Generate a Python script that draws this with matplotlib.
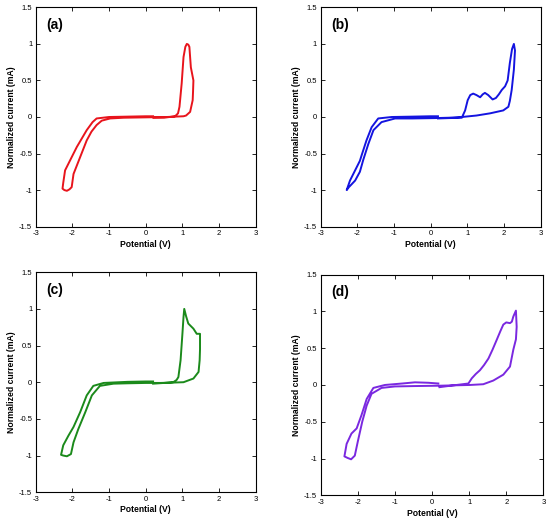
import matplotlib
matplotlib.use("Agg")
from matplotlib import pyplot as plt

plt.rcParams["font.family"] = ["Liberation Sans", "DejaVu Sans"]

# panel (a) - loop traced from 0.2 V, positive first
aX = [0.21, 0.5, 0.8, 0.88, 0.92, 0.98, 1.03, 1.08, 1.12, 1.16, 1.19, 1.23, 1.30, 1.29, 1.28, 1.21, 1.10, 1.03, 0.57,
      0.0, -0.6, -0.97, -1.20, -1.34, -1.48, -1.61, -1.79, -1.97, -2.02, -2.08, -2.15, -2.22, -2.27,
      -2.25, -2.2, -2.06, -1.88, -1.61, -1.45, -1.34, -1.0, -0.5, 0.0, 0.2]
aY = [-0.01, -0.01, 0.01, 0.05, 0.14, 0.46, 0.82, 0.96, 1.0, 0.99, 0.96, 0.68, 0.5, 0.35, 0.23, 0.07, 0.02, 0.01, 0.0,
      -0.005, -0.01, -0.02, -0.05, -0.11, -0.2, -0.32, -0.55, -0.78, -0.96, -0.99, -1.01, -1.0, -0.98,
      -0.9, -0.73, -0.59, -0.41, -0.18, -0.07, -0.02, 0.0, 0.005, 0.01, 0.01]

# panel (b)
bX = [0.2, 0.5, 0.85, 0.94, 1.01, 1.08, 1.16, 1.25, 1.35, 1.42, 1.48, 1.57, 1.69, 1.78, 1.86, 1.94, 2.03, 2.10, 2.16, 2.22, 2.27,
      2.30, 2.27, 2.21, 2.16, 2.12, 1.98, 1.62, 1.25, 0.85, 0.5,
      0.12, -0.5, -0.97, -1.34, -1.56, -1.70, -1.84, -1.93, -2.06, -2.23, -2.29,
      -2.2, -2.06, -1.93, -1.88, -1.75, -1.61, -1.43, -1.06, -0.5, 0.0, 0.2]
bY = [-0.02, -0.015, -0.01, 0.09, 0.23, 0.30, 0.32, 0.30, 0.27, 0.31, 0.33, 0.30, 0.24, 0.26, 0.31, 0.37, 0.42, 0.5, 0.74, 0.93, 1.0,
      0.91, 0.65, 0.37, 0.22, 0.14, 0.09, 0.05, 0.02, 0.0, -0.01,
      -0.015, -0.02, -0.02, -0.07, -0.18, -0.37, -0.59, -0.75, -0.87, -0.96, -1.0,
      -0.87, -0.73, -0.6, -0.52, -0.32, -0.14, -0.02, 0.0, 0.005, 0.01, 0.01]

# panel (c)
cX = [0.2, 0.5, 0.75, 0.84, 0.89, 0.95, 1.0, 1.03, 1.05, 1.10, 1.16, 1.30, 1.39, 1.48, 1.48, 1.47, 1.44, 1.3, 1.03, 0.75, 0.4,
      0.0, -0.5, -0.88, -1.25, -1.47, -1.65, -1.84, -1.97, -2.04, -2.15, -2.25, -2.31,
      -2.25, -2.11, -1.97, -1.79, -1.61, -1.43, -1.15, -0.5, 0.0, 0.2]
cY = [-0.02, -0.01, 0.0, 0.03, 0.07, 0.3, 0.66, 0.89, 1.0, 0.9, 0.8, 0.73, 0.66, 0.66, 0.45, 0.3, 0.14, 0.05, 0.0, -0.005, -0.01,
      -0.01, -0.015, -0.02, -0.05, -0.18, -0.41, -0.64, -0.82, -0.98, -1.01, -1.0, -0.99,
      -0.86, -0.73, -0.61, -0.41, -0.18, -0.05, -0.01, 0.005, 0.01, 0.01]

# panel (d)
dX = [0.2, 0.5, 0.98, 1.07, 1.18, 1.29, 1.40, 1.52, 1.63, 1.74, 1.84, 1.92, 2.0, 2.1, 2.15, 2.19, 2.26,
      2.28, 2.26, 2.19, 2.1, 1.92, 1.65, 1.38, 1.02, 0.6,
      0.2, -0.5, -1.0, -1.36, -1.63, -1.76, -1.88, -2.0, -2.08, -2.18, -2.28, -2.36,
      -2.3, -2.17, -2.03, -1.9, -1.76, -1.58, -1.27, -0.8, -0.46, -0.1, 0.17]
dY = [-0.03, -0.01, 0.02, 0.09, 0.15, 0.2, 0.27, 0.36, 0.48, 0.61, 0.73, 0.82, 0.85, 0.84, 0.86, 0.93, 1.01,
      0.79, 0.62, 0.48, 0.25, 0.14, 0.06, 0.01, 0.0, -0.005,
      -0.01, -0.015, -0.02, -0.04, -0.12, -0.28, -0.5, -0.77, -0.96, -1.01, -0.99, -0.97,
      -0.8, -0.66, -0.59, -0.41, -0.19, -0.04, 0.0, 0.02, 0.036, 0.03, 0.02]

panels = [("(a)", aX, aY, "#e8141c", [0.065, 0.570, 0.400, 0.416]),
          ("(b)", bX, bY, "#1414e0", [0.583, 0.570, 0.400, 0.416]),
          ("(c)", cX, cY, "#1b8a1b", [0.065, 0.066, 0.400, 0.4175]),
          ("(d)", dX, dY, "#7a28e0", [0.583, 0.060, 0.405, 0.419])]

fig = plt.figure(figsize=(5.5, 5.27), dpi=100)

for name, xs, ys, col, box in panels:
    ax = fig.add_axes(box)
    ax.plot(xs, ys, color=col, lw=1.4, solid_joinstyle="round")
    ax.set_xlim(-3, 3)
    ax.set_ylim(-1.5, 1.5)
    ax.set_xticks([-3, -2, -1, 0, 1, 2, 3])
    ax.set_yticks([-1.5, -1, -0.5, 0, 0.5, 1, 1.5])
    ax.set_yticklabels(["-1.5", "-1", "-0.5", "0", "0.5", "1", "1.5"])
    ax.set_xticklabels(["-3", "-2", "-1", "0", "1", "2", "3"])
    ax.tick_params(direction="in", length=3, width=0.6, labelsize=5.5, top=True, right=True, pad=2.5)
    for sp in ax.spines.values():
        sp.set_linewidth(0.8)
    ax.set_xlabel("Potential (V)", fontsize=6.2, fontweight="bold", labelpad=2)
    ax.set_ylabel("Normalized current (mA)", fontsize=6.2, fontweight="bold", labelpad=2)
    ax.text(-2.47, 1.26, name, fontsize=10, fontweight="bold", ha="center", va="center")

fig.savefig("out.png", dpi=100)
